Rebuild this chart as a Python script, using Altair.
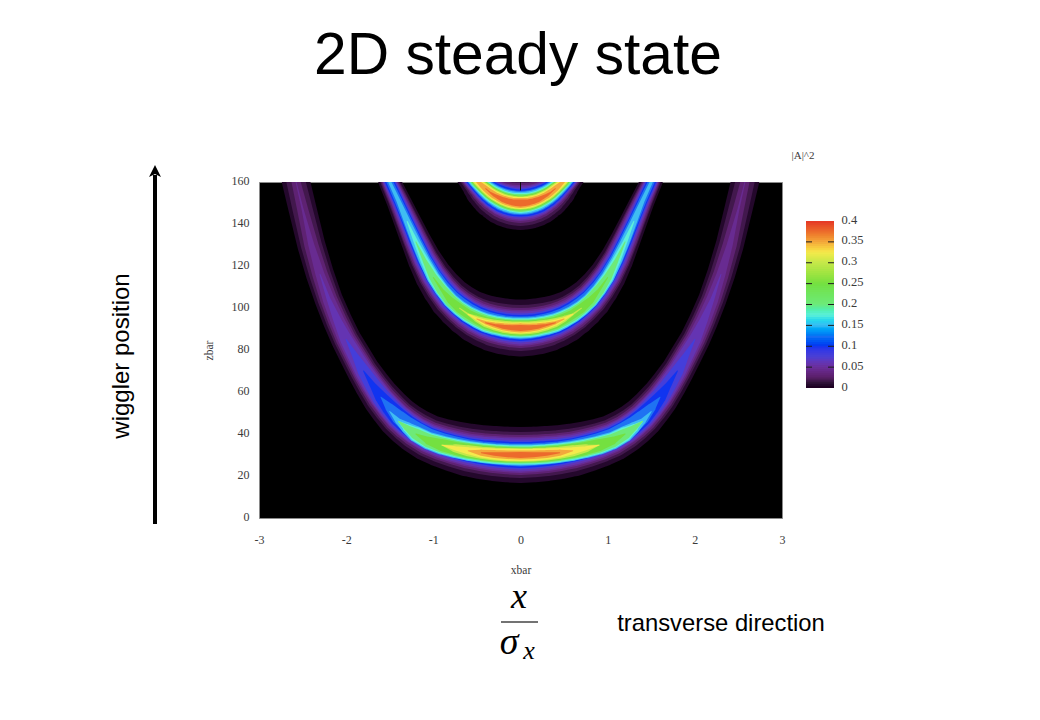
import altair as alt
import pandas as pd

# Colour bar
cbar_domain = [0, 0.012, 0.025, 0.05, 0.075, 0.1, 0.125, 0.15, 0.175, 0.2, 0.25, 0.3, 0.325, 0.35, 0.375, 0.4]
cbar_range = ["#000000", "#2e1236", "#5a1f68", "#6a2f9c", "#4a40d4", "#1034f0", "#1f72f2", "#3fbcf2",
              "#5ff0d8", "#6eea78", "#74e040", "#c4e84a", "#f5ea4c", "#f3a83c", "#ec6a2c", "#e53426"]
cbar_steps = [i * 0.005 for i in range(80)]
cbar_ticks = [0.05, 0.1, 0.15, 0.2, 0.25, 0.3, 0.35]
cbar_labels = [0, 0.05, 0.1, 0.15, 0.2, 0.25, 0.3, 0.35, 0.4]

levels = [0.007, 0.018, 0.03, 0.045, 0.06, 0.08, 0.1, 0.125, 0.15, 0.175, 0.2, 0.25, 0.3, 0.325, 0.35, 0.375]

# Crescent 1 (bottom): stations in xbar, ridge in zbar, band widths in screen units per contour level
x1 = [0, .15, .3, .45, .6, .75, .9, 1.05, 1.2, 1.3, 1.4, 1.5, 1.6, 1.7, 1.8, 1.9, 2.0, 2.1, 2.2, 2.3, 2.4, 2.5, 2.575, 2.75]
z1 = [30, 30.2, 30.7, 31.4, 32.4, 33.9, 35.7, 38, 41.5, 44.5, 48, 52.5, 57.5, 63.5, 70, 77.5, 85, 94, 104, 116, 130, 147, 160, 195]
z1_hi = [30, 30.1, 30.5, 31.1, 32, 33.2, 34.7, 36.7, 40, 42.8, 46, 50.7, 56, 62.2, 69, 76.5, 84.5, 94, 104, 116, 130, 147, 160, 195]
w1 = [
    [56, 55.5, 55, 54, 53, 51, 49, 47, 45, 43.5, 42, 40, 38, 35.5, 33, 31.5, 30, 29, 28, 28, 28, 28, 28, 28],
    [46, 45.5, 45, 44, 43, 41.5, 40, 38.5, 37, 35.5, 34, 32.5, 31, 29, 27, 25.5, 24, 23, 22, 21.5, 21, 20, 19, 19],
    [40, 39.5, 39, 38, 37, 36, 35, 33.5, 32, 31, 30, 28.5, 27, 25, 23, 21.5, 20, 18.5, 17, 15.5, 14, 11, 9, 8],
    [36, 35.5, 35, 34, 33, 32, 31, 29.5, 28, 27, 26, 24.5, 23, 21.5, 20, 18, 16, 14, 12, 9, 6, 2, 0],
    [33, 32.5, 32, 31, 30, 29, 28, 27, 26, 25, 24, 22.5, 21, 19, 17, 14.5, 12, 8, 4, 0],
    [29, 28.5, 28, 27, 26, 25.5, 25, 24, 23, 22, 21, 19.5, 18, 15, 12, 6, 0],
    [26, 25.5, 25, 24, 23, 22.5, 22, 21, 20, 19, 18, 15.5, 12, 6, 0],
    [23, 22.5, 22, 21.5, 21, 20.5, 20, 19, 18, 16, 14, 9, 0],
    [21, 20.5, 20, 20, 20, 19.5, 19, 17.5, 16, 12, 6, 0],
    [19, 19, 19, 18.5, 18, 17.5, 17, 15.5, 14, 8, 0],
    [17, 17, 17, 16.5, 16, 15.5, 15, 13.5, 11, 6, 0],
    [15, 15, 15, 14.5, 14, 13, 12, 8, 0],
    [13.5, 13.5, 13, 12, 11, 8, 0],
    [12, 12, 11, 9.5, 7, 4, 0],
    [9, 8.5, 8, 6, 0],
    [6, 5, 3.5, 0],
]

# Crescent 2 (middle)
x2 = [0, .1, .2, .3, .4, .5, .6, .7, .8, .9, 1.0, 1.1, 1.2, 1.3, 1.4, 1.5, 1.65]
z2 = [90.5, 90.7, 91.3, 92.2, 93.5, 95.3, 97.7, 100.8, 104.5, 109.5, 115.5, 123, 132, 141.5, 151, 160, 178]
z2_hi = [90.5, 90.6, 91.1, 91.9, 93, 94.8, 97, 99.9, 103.5, 108.5, 114.5, 122.5, 131.5, 141.2, 151, 160, 178]
w2 = [
    [57, 56.5, 56, 55, 53, 51, 48, 45.5, 43, 40, 37, 33.5, 30, 27, 24, 22, 22],
    [46, 45.5, 45, 44, 42, 40, 38, 36, 34, 32, 30, 27.5, 25, 22.5, 20, 18, 18],
    [40, 39.5, 39, 38, 37, 35.5, 34, 32, 30, 28.5, 27, 25, 23, 20.5, 18, 16, 16],
    [36, 35.5, 35, 34, 33, 31.5, 30, 28.5, 27, 25.5, 24, 22, 20, 18, 15.5, 14, 14],
    [33, 32.5, 32, 31, 30, 28.5, 27, 26, 25, 23.5, 22, 20, 18, 16, 14, 13, 13],
    [29, 28.5, 28, 27.5, 27, 25.5, 24, 23, 22, 20.5, 19, 17, 15, 13, 11.5, 11, 11],
    [26, 25.5, 25, 24.5, 24, 23, 22, 20.5, 19, 17.5, 16, 14.5, 13, 11, 9.5, 9, 9],
    [23, 22.5, 22, 21.5, 21, 20, 19, 18, 17, 15.5, 14.5, 13, 11, 9, 7.5, 6.5, 6],
    [21, 20.5, 20, 19.5, 19, 18, 17, 16, 15, 14, 13, 11, 9, 6.5, 4, 3, 2],
    [19, 18.5, 18, 17.5, 17, 16, 15, 14, 13, 12, 11, 8, 4.5, 0],
    [17, 16.5, 16, 15.5, 15, 14, 13, 12, 12, 10.5, 8, 4, 0],
    [15, 14.5, 14, 13, 12, 10.5, 9, 9, 7, 3, 0],
    [13, 12.5, 12, 10.5, 9, 6, 2, 0],
    [11, 10, 9, 7.5, 6, 3, 0],
    [9, 8, 7, 5, 3, 0],
    [6, 5, 4, 2, 0],
]

# Crescent 3 (top, cut by the plot's upper edge)
x3 = [0, .05, .1, .15, .2, .25, .3, .35, .4, .45, .5, .6, .7]
z3 = [150, 150.1, 150.4, 150.9, 151.6, 152.6, 153.7, 155.1, 156.8, 158.6, 160.5, 165, 170.5]
w3 = [
    [54, 53.5, 53, 52, 51, 49, 47, 44.5, 42, 38, 34, 30, 30],
    [46, 45.5, 45, 44, 43, 41, 39, 36.5, 34, 31, 28, 25, 25],
    [40, 39.5, 39, 38, 37, 35.5, 34, 32, 30, 27.5, 25, 23, 23],
    [36, 35.5, 35, 34, 33, 31.5, 30, 28.5, 27, 25, 23, 21, 21],
    [33, 32.5, 32, 31.5, 31, 29.5, 28, 26.5, 25, 23.5, 22, 20, 20],
    [29, 29, 29, 28.5, 28, 27, 26, 24.5, 23, 21.5, 20, 18, 18],
    [27, 27, 27, 26.5, 26, 25, 24, 22.5, 21, 19.5, 18, 16, 16],
    [24, 24, 24, 23.5, 23, 22, 21, 20, 19, 17.5, 16, 14, 14],
    [22, 22, 22, 21.5, 21, 20, 19, 18, 17, 16, 15, 13, 13],
    [20, 19.5, 19, 18.5, 18, 17.5, 17, 16, 15, 14, 13, 11, 11],
    [18, 17.5, 17, 16.5, 16, 15.5, 15, 14, 13, 12.5, 12, 10, 10],
    [15, 15, 15, 14.5, 14, 13.5, 13, 12.5, 12, 11, 10, 8, 8],
    [13, 13, 13, 12.5, 12, 11.5, 11, 10.5, 10, 9, 8, 6, 6],
    [12, 11.5, 11, 10.5, 10, 9.5, 9, 8.5, 8, 7, 6, 4, 4],
    [10, 9.5, 9, 8.5, 8, 7.5, 7, 6.5, 6, 4.5, 3, 1, 1],
    [7, 6.5, 6, 5.5, 5, 4, 3, 1.5, 0],
]

PX0, PY0 = 259, 182
W, H = 523, 336
SERIF = "Liberation Serif"
SANS = "Liberation Sans"
GREY = "#3a3a3a"

rows = []
for c, (xs, zs, zh, ws) in enumerate([(x1, z1, z1_hi, w1), (x2, z2, z2_hi, w2), (x3, z3, z3, w3)]):
    for k, lev in enumerate(levels):
        widths = ws[k]
        ridge = zh if lev >= 0.15 else zs
        n = len(widths)
        seq = [(-xs[i], ridge[i], widths[i]) for i in range(n - 1, 0, -1)] + \
              [(xs[i], ridge[i], widths[i]) for i in range(n)]
        for j, (a, b, w) in enumerate(seq):
            rows.append({"band": k * 10 + c, "i": j, "xbar": a, "zbar": b, "w": w, "level": lev})
bands = pd.DataFrame(rows).sort_values(["band", "i"])

color_scale = alt.Scale(domain=cbar_domain, range=cbar_range)
z_scale = alt.Scale(domain=[0, 160], nice=False)
x_scale = alt.Scale(domain=[-3, 3], nice=False)
bar_scale = alt.Scale(domain=[0, 0.4], range=[206, 39], nice=False)

heat = alt.Chart(bands).mark_trail(clip=True).encode(
    x=alt.X("xbar:Q", scale=x_scale, axis=alt.Axis(
        values=[-3, -2, -1, 0, 1, 2, 3], labelExpr="'' + datum.value", title="xbar", grid=False, domain=False, ticks=False,
        labelFlush=False, labelPadding=16, labelFont=SERIF, labelFontSize=12, labelColor=GREY,
        titleFont=SERIF, titleFontSize=11.5, titleFontWeight="normal", titleColor=GREY, titlePadding=19)),
    y=alt.Y("zbar:Q", scale=z_scale, axis=alt.Axis(
        values=list(range(0, 161, 20)), title="zbar", grid=False, domain=False, ticks=False,
        labelPadding=10, labelOffset=-1.5, labelFont=SERIF, labelFontSize=12, labelColor=GREY,
        titleFont=SERIF, titleFontSize=11.5, titleFontWeight="normal", titleColor=GREY, titlePadding=17)),
    detail="band:N",
    order="i:Q",
    size=alt.Size("w:Q", scale=None),
    color=alt.Color("level:Q", scale=color_scale, legend=None),
)

top_tick = alt.Chart(pd.DataFrame({"xbar": [0], "z0": [156], "z1": [160]})).mark_rule(
    color="#101010", strokeWidth=1).encode(
    x=alt.X("xbar:Q", scale=x_scale),
    y=alt.Y("z0:Q", scale=z_scale, axis=None),
    y2="z1:Q",
)

bar_df = pd.DataFrame({"v": cbar_steps, "v2": [min(v + 0.009, 0.4) for v in cbar_steps], "c": [v + 0.0025 for v in cbar_steps]})
colorbar = alt.Chart(bar_df).mark_rect().encode(
    x=alt.value(806 - PX0), x2=alt.value(834 - PX0),
    y=alt.Y("v:Q", scale=bar_scale, axis=alt.Axis(
        orient="right", offset=52, values=cbar_labels, format="~g", title=None, grid=False,
        domain=False, ticks=False, labelPadding=7, labelOffset=-2, labelFont=SERIF, labelFontSize=12.5, labelColor=GREY)),
    y2="v2:Q",
    color=alt.Color("c:Q", scale=color_scale, legend=None),
)
tick_df = pd.DataFrame({"v": cbar_ticks})
tick_l = alt.Chart(tick_df).mark_rule(color="#1c1c1c", strokeWidth=1).encode(
    x=alt.value(806 - PX0), x2=alt.value(812 - PX0),
    y=alt.Y("v:Q", scale=bar_scale, axis=None))
tick_r = alt.Chart(tick_df).mark_rule(color="#1c1c1c", strokeWidth=1).encode(
    x=alt.value(828 - PX0), x2=alt.value(834 - PX0),
    y=alt.Y("v:Q", scale=bar_scale, axis=None))


def label(text, px, py, size, font=SANS, color="#000000", angle=0, style="normal", baseline="middle"):
    return alt.Chart(pd.DataFrame({"t": [text]})).mark_text(
        font=font, fontSize=size, color=color, angle=angle, fontStyle=style, baseline=baseline, align="center"
    ).encode(text="t:N", x=alt.value(px - PX0), y=alt.value(py - PY0))


texts = [
    label("2D steady state", 518, 56, 58.7),
    label("wiggler position", 122, 356, 24, angle=270),
    label("transverse direction", 721, 624, 23.8),
    label("|A|^2", 803, 156, 11, font=SERIF, color=GREY),
    label("x", 519, 608, 36, font=SERIF, style="italic", baseline="alphabetic"),
    label("σ", 509, 654, 38, font=SERIF, style="italic", baseline="alphabetic"),
    label("x", 529, 659, 26, font=SERIF, style="italic", baseline="alphabetic"),
]

frac = alt.Chart(pd.DataFrame({"a": [1]})).mark_rule(color="#444444", strokeWidth=1.5).encode(
    x=alt.value(501 - PX0), x2=alt.value(538 - PX0), y=alt.value(622 - PY0))
shaft = alt.Chart(pd.DataFrame({"a": [1]})).mark_rule(color="#000000", strokeWidth=4).encode(
    x=alt.value(155 - PX0), y=alt.value(175 - PY0), y2=alt.value(524 - PY0))
head = alt.Chart(pd.DataFrame({"a": [1]})).mark_point(
    shape="M0,-0.5 L0.5,0.5 L0,0.25 L-0.5,0.5 Z", size=576, filled=True, opacity=1, color="#000000"
).encode(x=alt.value(155 - PX0), y=alt.value(171 - PY0))

chart = alt.layer(heat, top_tick, colorbar, tick_l, tick_r, frac, shaft, head, *texts).resolve_scale(
    y="independent"
).properties(
    width=W, height=H,
    autosize=alt.AutoSizeParams(type="none"),
    padding={"left": PX0 - 8, "top": PY0 - 8, "right": 240, "bottom": 190},
    background="#ffffff",
).configure_view(fill="#000000", stroke="#8a8a8a", strokeWidth=1)

chart.save("out.html", embed_options={"renderer": "svg", "actions": False})
